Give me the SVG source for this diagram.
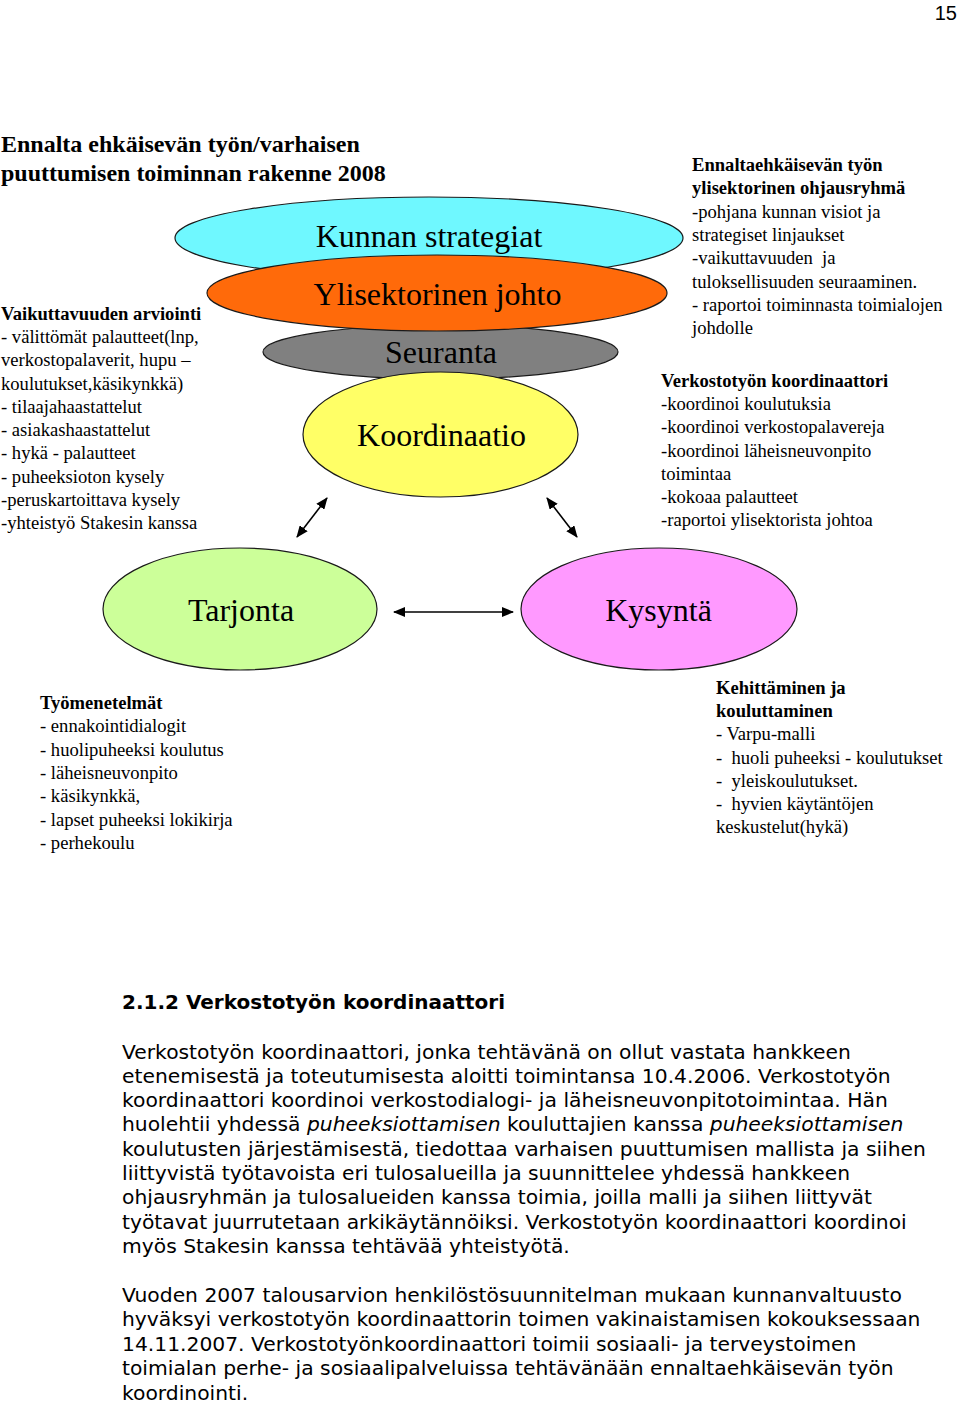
<svg xmlns="http://www.w3.org/2000/svg" width="960" height="1403" viewBox="0 0 960 1403">
<defs>
<style>
.serif{font-family:"Liberation Serif","Times New Roman",serif;fill:#000}
.sm{font-size:18.6px}
.pre{white-space:pre}
.b{font-weight:bold}
.big{font-size:32px;text-anchor:middle}
.title{font-size:24px;font-weight:bold}
.sans{font-family:"DejaVu Sans",Verdana,sans-serif;fill:#000;font-size:20.3px}
.it{font-style:italic}
.ell{stroke:#1a1a1a;stroke-width:1.2}
.conn{stroke:#000;stroke-width:1.6;fill:none;marker-start:url(#ah);marker-end:url(#ah)}
</style>
<marker id="ah" markerUnits="userSpaceOnUse" markerWidth="12" markerHeight="10" refX="11" refY="5" orient="auto-start-reverse" viewBox="0 0 12 10">
<path d="M0,0 L12,5 L0,10 z" fill="#000"/>
</marker>
</defs>
<rect width="960" height="1403" fill="#fff"/>
<text x="957" y="20" text-anchor="end" style="font-family:'Liberation Sans',Arial,sans-serif;font-size:20px">15</text>

<g id="title" class="serif title">
<text x="1" y="152">Ennalta ehkäisevän työn/varhaisen</text>
<text x="1" y="181">puuttumisen toiminnan rakenne 2008</text>
</g>

<g id="node-kunnan">
<ellipse class="ell" cx="429" cy="238" rx="254" ry="41" fill="#6FF8FF"/>
<text class="serif big" x="429" y="247">Kunnan strategiat</text>
</g>
<g id="node-seuranta">
<ellipse class="ell" cx="440.5" cy="352" rx="177.5" ry="27" fill="#808080"/>
<text class="serif big" x="441" y="363">Seuranta</text>
</g>
<g id="node-ylisektorinen">
<ellipse class="ell" cx="437" cy="293" rx="230" ry="38" fill="#FF6A0A"/>
<text class="serif big" x="437.5" y="305">Ylisektorinen johto</text>
</g>
<g id="node-koordinaatio">
<ellipse class="ell" cx="440.5" cy="434.5" rx="137.5" ry="62.5" fill="#FFFF66"/>
<text class="serif big" x="441.5" y="446">Koordinaatio</text>
</g>
<g id="node-tarjonta">
<ellipse class="ell" cx="240" cy="609" rx="137" ry="61" fill="#CCFF99"/>
<text class="serif big" x="241" y="621">Tarjonta</text>
</g>
<g id="node-kysynta">
<ellipse class="ell" cx="659" cy="609" rx="138" ry="61" fill="#FF99FF"/>
<text class="serif big" x="658.5" y="621">Kysyntä</text>
</g>

<g id="connectors">
<line class="conn" x1="297" y1="537" x2="327" y2="498"/>
<line class="conn" x1="547" y1="498" x2="577" y2="537"/>
<line class="conn" x1="394" y1="612" x2="513" y2="612"/>
</g>

<g id="text-vaikuttavuus" class="serif sm">
<text x="1" y="320" class="b">Vaikuttavuuden arviointi</text>
<text x="1" y="343.2">- välittömät palautteet(lnp,</text>
<text x="1" y="366.4">verkostopalaverit, hupu –</text>
<text x="1" y="389.7">koulutukset,käsikynkkä)</text>
<text x="1" y="412.9">- tilaajahaastattelut</text>
<text x="1" y="436.1">- asiakashaastattelut</text>
<text x="1" y="459.3">- hykä - palautteet</text>
<text x="1" y="482.5">- puheeksioton kysely</text>
<text x="1" y="505.8">-peruskartoittava kysely</text>
<text x="1" y="529">-yhteistyö Stakesin kanssa</text>
</g>

<g id="text-ohjausryhma" class="serif sm">
<text x="692" y="171" class="b">Ennaltaehkäisevän työn</text>
<text x="692" y="194.3" class="b">ylisektorinen ohjausryhmä</text>
<text x="692" y="217.6">-pohjana kunnan visiot ja</text>
<text x="692" y="240.9">strategiset linjaukset</text>
<text x="692" y="264.2" class="pre">-vaikuttavuuden  ja</text>
<text x="692" y="287.5">tuloksellisuuden seuraaminen.</text>
<text x="692" y="310.8">- raportoi toiminnasta toimialojen</text>
<text x="692" y="334.1">johdolle</text>
</g>

<g id="text-koordinaattori" class="serif sm">
<text x="661" y="387" class="b">Verkostotyön koordinaattori</text>
<text x="661" y="410.2">-koordinoi koulutuksia</text>
<text x="661" y="433.4">-koordinoi verkostopalavereja</text>
<text x="661" y="456.6">-koordinoi läheisneuvonpito</text>
<text x="661" y="479.8">toimintaa</text>
<text x="661" y="503">-kokoaa palautteet</text>
<text x="661" y="526.2">-raportoi ylisektorista johtoa</text>
</g>

<g id="text-tyomenetelmat" class="serif sm">
<text x="40" y="709" class="b">Työmenetelmät</text>
<text x="40" y="732.3">- ennakointidialogit</text>
<text x="40" y="755.6">- huolipuheeksi koulutus</text>
<text x="40" y="778.9">- läheisneuvonpito</text>
<text x="40" y="802.2">- käsikynkkä,</text>
<text x="40" y="825.5">- lapset puheeksi lokikirja</text>
<text x="40" y="848.8">- perhekoulu</text>
</g>

<g id="text-kehittaminen" class="serif sm">
<text x="716" y="694" class="b">Kehittäminen ja</text>
<text x="716" y="717.2" class="b">kouluttaminen</text>
<text x="716" y="740.4">- Varpu-malli</text>
<text x="716" y="763.6" class="pre">-  huoli puheeksi - koulutukset</text>
<text x="716" y="786.8" class="pre">-  yleiskoulutukset.</text>
<text x="716" y="810" class="pre">-  hyvien käytäntöjen</text>
<text x="716" y="833.2">keskustelut(hykä)</text>
</g>

<g id="section" class="sans">
<text x="122" y="1009" style="font-weight:bold;font-size:20px">2.1.2 Verkostotyön koordinaattori</text>
<text x="122" y="1058.5">Verkostotyön koordinaattori, jonka tehtävänä on ollut vastata hankkeen</text>
<text x="122" y="1082.8">etenemisestä ja toteutumisesta aloitti toimintansa 10.4.2006. Verkostotyön</text>
<text x="122" y="1107.1">koordinaattori koordinoi verkostodialogi- ja läheisneuvonpitotoimintaa. Hän</text>
<text x="122" y="1131.4">huolehtii yhdessä <tspan class="it">puheeksiottamisen</tspan> kouluttajien kanssa <tspan class="it">puheeksiottamisen</tspan></text>
<text x="122" y="1155.7">koulutusten järjestämisestä, tiedottaa varhaisen puuttumisen mallista ja siihen</text>
<text x="122" y="1180">liittyvistä työtavoista eri tulosalueilla ja suunnittelee yhdessä hankkeen</text>
<text x="122" y="1204.3">ohjausryhmän ja tulosalueiden kanssa toimia, joilla malli ja siihen liittyvät</text>
<text x="122" y="1228.6">työtavat juurrutetaan arkikäytännöiksi. Verkostotyön koordinaattori koordinoi</text>
<text x="122" y="1252.9">myös Stakesin kanssa tehtävää yhteistyötä.</text>
<text x="122" y="1301.5">Vuoden 2007 talousarvion henkilöstösuunnitelman mukaan kunnanvaltuusto</text>
<text x="122" y="1326">hyväksyi verkostotyön koordinaattorin toimen vakinaistamisen kokouksessaan</text>
<text x="122" y="1350.5">14.11.2007. Verkostotyönkoordinaattori toimii sosiaali- ja terveystoimen</text>
<text x="122" y="1375">toimialan perhe- ja sosiaalipalveluissa tehtävänään ennaltaehkäisevän työn</text>
<text x="122" y="1399.5">koordinointi.</text>
</g>
</svg>
